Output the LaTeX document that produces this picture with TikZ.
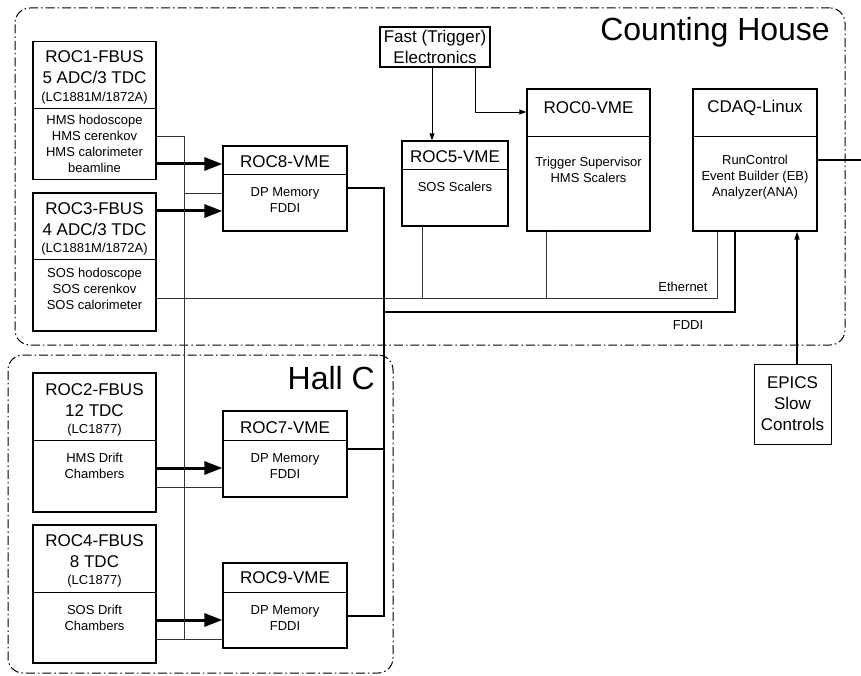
\documentclass[tikz,border=0pt]{standalone}
\usepackage{fontspec}
\setmainfont{Liberation Sans}
\usetikzlibrary{arrows.meta, positioning}
\newcommand{\titlefont}{\fontsize{17}{21}\selectfont}
\newcommand{\infofont}{\fontsize{13}{16}\selectfont}
\newcommand{\areafont}{\fontsize{32}{38}\selectfont}

\begin{document}
\begin{tikzpicture}[x=1pt, y=-1pt,
  unit/.style={draw, line width=1.3pt, inner sep=0pt},
  fbus/.style={unit, minimum width=123pt, minimum height=138pt},
  vme/.style={unit, minimum width=124pt, minimum height=85pt},
  title/.style={font=\titlefont, align=center, inner sep=0pt},
  info/.style={font=\infofont, align=center, inner sep=0pt},
  divider/.style={line width=0.8pt},
  area/.style={draw, line width=1pt, rounded corners=15pt,
               dash pattern=on 9pt off 3pt on 1.5pt off 3pt},
  bus/.style={line width=3pt, -{Triangle[length=18pt,width=13pt]}},
  fddi/.style={line width=2.5pt},
  eth/.style={line width=0.8pt, black!80},
  sig/.style={line width=0.9pt, -{Triangle[length=7pt,width=5pt]}}
]
\useasboundingbox (0,0) rectangle (861,676);

%% Areas
\node[area, minimum width=830pt, minimum height=337pt] (house) at (430,176.5) {};
\node[area, minimum width=385pt, minimum height=318pt] (hallc) at (200.5,514) {};
\node[font=\areafont, anchor=east, inner sep=0pt] (houselbl) at (830,32) {Counting House};
\node[font=\areafont, anchor=east, inner sep=0pt] (hallclbl) at (375,378) {Hall C};

%% FASTBUS readout controllers
\node[fbus] (roc1) at (94.5,110.5) {};
\draw[divider] (roc1.west |- 0,108) -- (roc1.east |- 0,108);
\node[title] (roc1t) at (94.5,67.5) {ROC1-FBUS\\5 ADC/3 TDC};
\node[info]  (roc1p) at (94.5,98) {(LC1881M/1872A)};
\node[info]  (roc1d) at (94.5,144) {HMS hodoscope\\HMS cerenkov\\HMS calorimeter\\beamline};

\node[fbus] (roc3) at (94.5,262) {};
\draw[divider] (roc3.west |- 0,259) -- (roc3.east |- 0,259);
\node[title] (roc3t) at (94.5,219.5) {ROC3-FBUS\\4 ADC/3 TDC};
\node[info]  (roc3p) at (94.5,249) {(LC1881M/1872A)};
\node[info]  (roc3d) at (94.5,289) {SOS hodoscope\\SOS cerenkov\\SOS calorimeter};

\node[fbus, minimum height=139pt] (roc2) at (94.5,442.5) {};
\draw[divider] (roc2.west |- 0,440) -- (roc2.east |- 0,440);
\node[title] (roc2t) at (94.5,400) {ROC2-FBUS\\12 TDC};
\node[info]  (roc2p) at (94.5,430) {(LC1877)};
\node[info]  (roc2d) at (94.5,466) {HMS Drift\\Chambers};

\node[fbus] (roc4) at (94.5,594) {};
\draw[divider] (roc4.west |- 0,592) -- (roc4.east |- 0,592);
\node[title] (roc4t) at (94.5,551) {ROC4-FBUS\\8 TDC};
\node[info]  (roc4p) at (94.5,581) {(LC1877)};
\node[info]  (roc4d) at (94.5,618) {SOS Drift\\Chambers};

%% VME readout controllers
\node[vme] (roc8) at (285,188.5) {};
\draw[divider] (roc8.west |- 0,174) -- (roc8.east |- 0,174);
\node[title] (roc8t) at (285,162) {ROC8-VME};
\node[info]  (roc8d) at (285,200.5) {DP Memory\\FDDI};

\node[vme, minimum height=86pt] (roc7) at (285,454) {};
\draw[divider] (roc7.west |- 0,440) -- (roc7.east |- 0,440);
\node[title] (roc7t) at (285,428) {ROC7-VME};
\node[info]  (roc7d) at (285,466) {DP Memory\\FDDI};

\node[vme] (roc9) at (285,605.5) {};
\draw[divider] (roc9.west |- 0,592) -- (roc9.east |- 0,592);
\node[title] (roc9t) at (285,578) {ROC9-VME};
\node[info]  (roc9d) at (285,618) {DP Memory\\FDDI};

\node[vme, minimum width=106pt] (roc5) at (455,183.5) {};
\draw[divider] (roc5.west |- 0,169) -- (roc5.east |- 0,169);
\node[title] (roc5t) at (455,157) {ROC5-VME};
\node[info]  (roc5d) at (455,187) {SOS Scalers};

\node[vme, minimum width=123pt, minimum height=142pt] (roc0) at (588.5,160) {};
\draw[divider] (roc0.west |- 0,136) -- (roc0.east |- 0,136);
\node[title] (roc0t) at (588.5,108) {ROC0-VME};
\node[info]  (roc0d) at (588.5,169.5) {Trigger Supervisor\\HMS Scalers};

%% Host and other systems
\node[vme, minimum height=142pt] (cdaq) at (755,160) {};
\draw[divider] (cdaq.west |- 0,136) -- (cdaq.east |- 0,136);
\node[title] (cdaqt) at (755,108) {CDAQ-Linux};
\node[info]  (cdaqd) at (755,177.5) {RunControl\\Event Builder (EB)\\Analyzer(ANA)};

\node[unit, title, minimum width=110pt, minimum height=40pt] (fast) at (435,47)
  {Fast (Trigger)\\Electronics};
\node[draw, line width=1pt, title, minimum width=77pt, minimum height=80pt] (epics)
  at (792.5,404) {EPICS\\Slow\\Controls};

%% FASTBUS data into the VME crates
\draw[bus] (roc1.east |- 0,164) -- (roc8.west |- 0,164);
\draw[bus] (roc3.east |- 0,211) -- (roc8.west |- 0,211);
\draw[bus] (roc2.east |- 0,468) -- (roc7.west |- 0,468);
\draw[bus] (roc4.east |- 0,620) -- (roc9.west |- 0,620);

%% Ethernet
\coordinate (ethA) at (184,136);
\coordinate (ethB) at (184,639);
\draw[eth] (roc1.east |- ethA) -- (ethA) -- (ethB);
\draw[eth] (ethA |- 0,193) -- (roc8.west |- 0,193);
\draw[eth] (roc2.east |- 0,487) -- (roc7.west |- 0,487);
\draw[eth] (roc4.east |- ethB) -- (roc9.west |- ethB);
\draw[eth] (roc3.east |- 0,298) -| (717,0 |- cdaq.south);
\draw[eth] (422,0 |- roc5.south) -- (422,298);
\draw[eth] (546,0 |- roc0.south) -- (546,298);
\node[info] (ethlbl) at (683,287) {Ethernet};

%% FDDI
\coordinate (fddiA) at (384,188);
\coordinate (fddiB) at (384,616);
\draw[fddi] (roc8.east |- fddiA) -- (fddiA) -- (fddiB) -- (roc9.east |- fddiB);
\draw[fddi] (roc7.east |- 0,449) -- (fddiA |- 0,449);
\draw[fddi] (fddiA |- 0,312) -| (735,0 |- cdaq.south);
\node[info] (fddilbl) at (688,325) {FDDI};

%% Trigger and slow controls
\draw[sig] (432,0 |- fast.south) -- (432,0 |- roc5.north);
\draw[sig] (475,0 |- fast.south) |- (roc0.west |- 0,112);
\draw[sig, line width=1.4pt, -{Triangle[length=8pt,width=5pt]}]
  (797,0 |- epics.north) -- (797,0 |- cdaq.south);
\coordinate (outside) at (861,160);
\draw[line width=1.4pt] (cdaq.east) -- (outside);
\end{tikzpicture}
\end{document}
